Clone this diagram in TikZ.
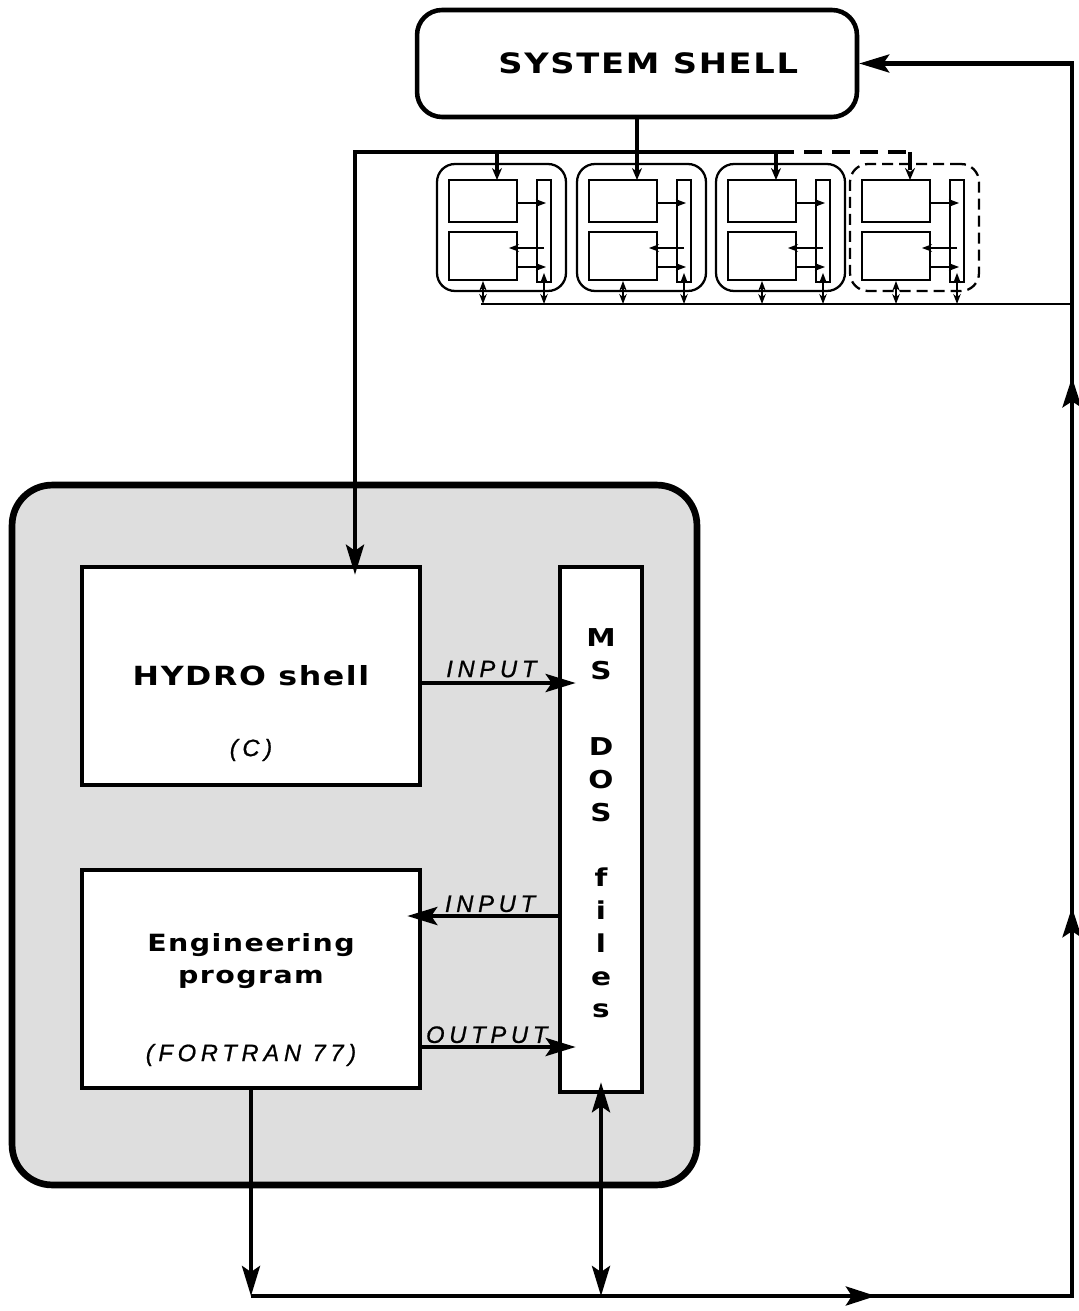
\documentclass[tikz,border=0pt]{standalone}
\usepackage{fontspec}
\setmainfont{Liberation Sans}
\newfontfamily\widefont{DejaVu Sans}[FakeStretch=1.2,LetterSpace=6]
\newfontfamily\tagfont{Liberation Sans}[LetterSpace=20,FakeBold=0.8]
\usepackage{tikz}
\usetikzlibrary{arrows.meta,calc,decorations.markings}

\tikzset{
  conn/.style={line width=2.4pt},
  fine/.style={line width=1.1pt},
  bigtip/.style={-{Stealth[length=0.6cm,width=0.36cm,inset=0.12cm]}},
  droptip/.style={-{Stealth[length=0.24cm,width=0.2cm]}},
  smalltip/.style={-{Stealth[length=0.2cm,width=0.15cm]}},
  twotips/.style={{Stealth[length=0.2cm,width=0.15cm]}-{Stealth[length=0.2cm,width=0.15cm]}},
  twobig/.style={{Stealth[length=0.6cm,width=0.36cm,inset=0.12cm]}-{Stealth[length=0.6cm,width=0.36cm,inset=0.12cm]}},
  bigbox/.style={draw,line width=2.6pt,fill=white,inner sep=0pt},
  subbox/.style={draw,line width=1.1pt,fill=white,inner sep=0pt},
  thindash/.style={dash pattern=on 0.22cm off 0.12cm},
  thickdash/.style={dash pattern=on 0.36cm off 0.2cm},
  title/.style={font=\widefont\bfseries\fontsize{#1}{18.7}\selectfont,inner sep=0pt},
  title/.default=15,
  lang/.style={font=\tagfont\itshape\fontsize{13.5}{16}\selectfont,inner sep=0pt},
  tag/.style={font=\tagfont\itshape\fontsize{13.5}{16}\selectfont,inner sep=2pt},
  midtip/.style={postaction={decorate,decoration={markings,
      mark=at position #1 with {\arrow{Stealth[length=0.6cm,width=0.38cm,inset=0.12cm]}}}}},
}

\begin{document}
\begin{tikzpicture}[x=0.02cm,y=-0.02cm]
\useasboundingbox (0,0) rectangle (1078,1311);
% PC block
\node[draw,line width=3.8pt,rounded corners=0.8cm,fill=black!13,inner sep=0pt,
  minimum width=13.7cm,minimum height=14cm] (block) at (354.5,835) {};
\node[bigbox,title=16,rounded corners=0.5cm,minimum width=8.8cm,minimum height=2.14cm]
  (sysshell) at (637,63.5) {\hspace*{0.45cm}SYSTEM SHELL};
\node[bigbox,title,minimum width=6.76cm,minimum height=4.36cm] (hydro) at (251,676) {HYDRO shell};
\node[lang] (hydrolang) at (251,750) {(C)};
\node[bigbox,minimum width=6.76cm,minimum height=4.36cm] (eng) at (251,979) {};
\node[title=13.5,align=center] (engtitle) at (251,961) {Engineering\\program};
\node[lang] (englang) at (251,1055) {(FORTRAN 77)};
\node[bigbox,minimum width=1.64cm,minimum height=10.5cm] (msdos) at (601,829.5) {};
\node[font=\widefont\bfseries\fontsize{14}{18.7}\selectfont,align=center,inner sep=0pt,anchor=north]
  (msdostext) at (601,628) {M\\S\\[0.88cm]D\\O\\S\\[0.64cm]f\\i\\l\\e\\s};

% Busses
\coordinate (busL) at (355,152);
\coordinate (busR) at (776,152);
\coordinate (bus2) at (481,304);
\coordinate (bl) at (251,1296);
\coordinate (br) at (1072,1296);
\coordinate (row1) at (0,683);
\coordinate (row2) at (0,916);
\coordinate (row3) at (0,1047);

% Workstations
\foreach \dx/\pat/\bpat [count=\i] in {0/solid/solid,140/solid/solid,279/solid/solid,413/thindash/thickdash}{
  \node[draw,line width=1.3pt,rounded corners=0.36cm,inner sep=0pt,minimum width=2.58cm,
    minimum height=2.54cm,\pat] (g\i) at ({\dx+501.5},227.5) {};
  \node[subbox,minimum width=1.36cm,minimum height=0.84cm] (u\i) at ({\dx+483},201) {};
  \node[subbox,minimum width=1.36cm,minimum height=0.96cm] (l\i) at ({\dx+483},256) {};
  \node[subbox,minimum width=0.28cm,minimum height=2.04cm] (b\i) at ({\dx+544},231) {};
  \coordinate (d\i) at ({\dx+497},180);
  \draw[conn,droptip,\bpat] (d\i |- busL) -- (d\i);
  \draw[fine,smalltip] ($(u\i.east)+(0,2)$) -- ($(b\i.center |- u\i.east)+(2,2)$);
  \draw[fine,smalltip] ($(b\i.center |- l\i.east)+(0,-8)$) -- ($(l\i.east)+(-9,-8)$);
  \draw[fine,smalltip] ($(l\i.east)+(0,11)$) -- ($(b\i.center |- l\i.east)+(2,11)$);
  \draw[fine,twotips] (l\i.south) -- (l\i.south |- bus2);
  \draw[fine,twotips] ($(b\i.south)+(0,-10)$) -- (b\i.south |- bus2);
}
\draw[conn] (sysshell.south) -- (sysshell.south |- busL);
\draw[conn,thickdash] (busR) -- (d4 |- busR);
\draw[conn,bigtip] (busR) -- (busL) -- ($(hydro.north -| busL)+(0,10)$);
\draw[fine] (bus2) -- (bus2 -| br);

% Files
\draw[conn,bigtip] (hydro.east |- row1) -- ($(msdos.west |- row1)+(18,0)$)
  node[tag,pos=0.45,above] (in1) {INPUT};
\draw[conn,bigtip] (msdos.west |- row2) -- ($(eng.east |- row2)+(-15,0)$)
  node[tag,pos=0.45,above,inner sep=1pt] (in2) {INPUT};
\draw[conn,bigtip] (eng.east |- row3) -- ($(msdos.west |- row3)+(18,0)$)
  node[tag,pos=0.42,above,inner sep=1pt] (out1) {OUTPUT};

% Return loop
\draw[conn,bigtip] (eng.south) -- (bl);
\draw[conn,twobig] ($(msdos.south)+(0,-12)$) -- (msdos.south |- bl);
\draw[conn,midtip=12.5cm,midtip=24.2cm,midtip=34.8cm,bigtip]
  (bl) -- (br) -- (sysshell.east -| br) -- (sysshell.east);
\end{tikzpicture}
\end{document}
